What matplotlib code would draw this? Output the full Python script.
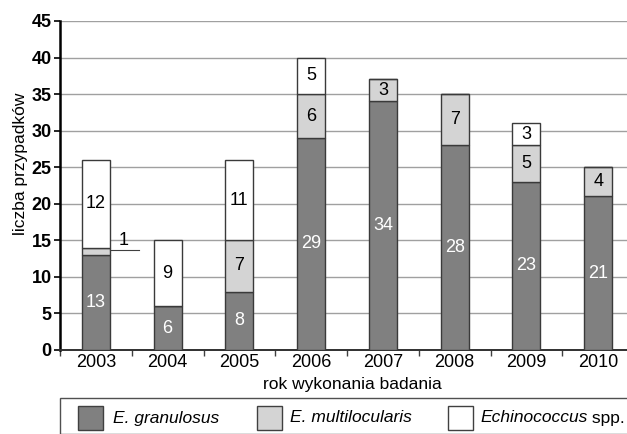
import matplotlib
matplotlib.use("Agg")
import matplotlib.pyplot as plt
from matplotlib.patches import Rectangle
import numpy as np

plt.rcParams['font.family'] = ['Liberation Sans', 'DejaVu Sans']

years = ['2003', '2004', '2005', '2006', '2007', '2008', '2009', '2010']
granulosus = [13, 6, 8, 29, 34, 28, 23, 21]
multilocularis = [1, 0, 7, 6, 3, 7, 5, 4]
spp = [12, 9, 11, 5, 0, 0, 3, 0]
series_names = ['E. granulosus', 'E. multilocularis', 'Echinococcus spp.']
colors = ['#808080', '#d4d4d4', '#ffffff']

W, H = 627, 434
fig = plt.figure(figsize=(W / 100, H / 100), dpi=100)
ax_l, ax_r, ax_t, ax_b = 60, 634, 21, 350
ax = fig.add_axes([ax_l / W, 1 - ax_b / H, (ax_r - ax_l) / W, (ax_b - ax_t) / H])

x = np.arange(len(years))
bw = 0.39
edge = '#3a3a3a'
g = np.array(granulosus)
m = np.array(multilocularis)
s = np.array(spp)
ax.bar(x, g, bw, color=colors[0], edgecolor=edge, linewidth=1.0, zorder=3)
ax.bar(x, m, bw, bottom=g, color=colors[1], edgecolor=edge, linewidth=1.0, zorder=3)
ax.bar(x, s, bw, bottom=g + m, color=colors[2], edgecolor=edge, linewidth=1.0, zorder=3)

fs = 13
for i in range(len(years)):
    ax.text(x[i], g[i] / 2, str(g[i]), ha='center', va='center', color='white', fontsize=fs, zorder=4)
    if m[i] > 1:
        ax.text(x[i], g[i] + m[i] / 2, str(m[i]), ha='center', va='center', color='black', fontsize=fs, zorder=4)
    elif m[i] == 1:
        yy = g[i] + m[i] / 2 + 0.2
        ax.plot([x[i] + bw / 2, x[i] + 0.6], [yy, yy], color='#404040', lw=0.8, zorder=4, clip_on=False)
        ax.text(x[i] + 0.39, yy + 0.05, str(m[i]), ha='center', va='bottom', color='black', fontsize=fs, zorder=4)
    if s[i] > 0:
        ax.text(x[i], g[i] + m[i] + s[i] / 2, str(s[i]), ha='center', va='center', color='black', fontsize=fs, zorder=4)

ax.set_xlim(-0.5, len(years) - 0.5)
ax.set_ylim(0, 45)
ax.set_yticks(np.arange(0, 46, 5))
ax.set_yticklabels([str(v) for v in range(0, 46, 5)], fontweight='bold', fontsize=13)
ax.set_xticks(x)
ax.set_xticklabels(years, fontsize=13)
ax.set_xticks(np.arange(-0.5, len(years), 1), minor=True)
ax.tick_params(axis='x', which='major', length=0, pad=3)
ax.tick_params(axis='x', which='minor', length=4, color='#404040', width=1.0)
ax.tick_params(axis='y', length=4, width=1.2, pad=2)
ax.yaxis.grid(True, color='#a0a0a0', linewidth=1.0, zorder=0)
ax.set_axisbelow(True)
for sp in ['top', 'right']:
    ax.spines[sp].set_visible(False)
ax.spines['left'].set_linewidth(1.8)
ax.spines['bottom'].set_linewidth(1.4)
ax.spines['bottom'].set_color('#303030')
ax.set_ylabel('liczba przypadków', fontsize=12.5)
ax.yaxis.set_label_coords((28 - ax_l) / (ax_r - ax_l), (ax_b - 164) / (ax_b - ax_t))
fig.text(352 / W, 1 - 384 / H, 'rok wykonania badania', ha='center', va='center', fontsize=12.5)

# legend box
fig.patches.append(Rectangle((60 / W, 0), (W - 60 + 5) / W, (H - 398) / H, transform=fig.transFigure,
                             facecolor='white', edgecolor='#505050', linewidth=1.0, clip_on=False))
patch_x = [78, 257, 448]
text_x = [113, 290, 480]
lfs = 12.5
fig.canvas.draw()
renderer = fig.canvas.get_renderer()
for px, tx, c, name in zip(patch_x, text_x, colors, series_names):
    fig.patches.append(Rectangle((px / W, 1 - 430 / H), 25 / W, 24 / H, transform=fig.transFigure,
                                 facecolor=c, edgecolor='#404040', linewidth=1.0))
    if name.endswith(' spp.'):
        t = fig.text(tx / W, 1 - 418 / H, name[:-5], style='italic', ha='left', va='center', fontsize=lfs)
        bb = t.get_window_extent(renderer)
        fig.text(bb.x1 / W, 1 - 418 / H, ' spp.', ha='left', va='center', fontsize=lfs)
    else:
        fig.text(tx / W, 1 - 418 / H, name, style='italic', ha='left', va='center', fontsize=lfs)

fig.savefig('out.png', dpi=100)
